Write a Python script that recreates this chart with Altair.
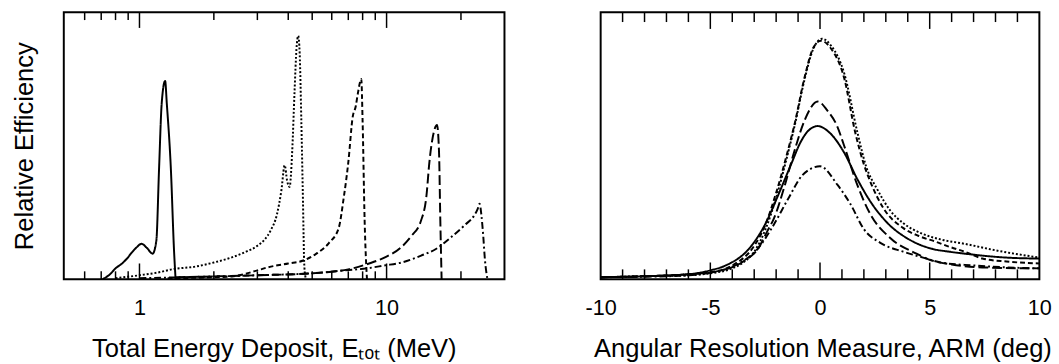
import altair as alt
import pandas as pd

FONT = "Liberation Sans"

# ---------------- Left panel: total energy deposit spectra ----------------
# x: total energy deposit (MeV), y: relative efficiency (arbitrary units)
l_solid_x = [0.71, 0.76, 0.80, 0.85, 0.89, 0.93, 0.97, 1.02, 1.07, 1.13, 1.17, 1.20, 1.23, 1.27, 1.29, 1.34, 1.38, 1.40]
l_solid_y = [0, 5, 11, 16, 21, 27, 32, 36, 32, 26, 39, 112, 179, 202, 179, 112, 29, 0]

l_dot_x = [0.80, 1.0, 1.2, 1.35, 1.7, 2.0, 2.35, 2.7, 3.0, 3.2, 3.4, 3.6, 3.75, 3.87, 3.96, 4.05, 4.15, 4.24, 4.32, 4.39, 4.45, 4.52, 4.58, 4.65, 4.72]
l_dot_y = [1, 4, 7, 10, 13, 17, 22, 28, 34, 40, 50, 66, 90, 116, 100, 94, 130, 190, 235, 248, 230, 160, 90, 12, 0]

l_sdash_x = [1.3, 2.0, 2.4, 3.0, 3.3, 4.0, 4.6, 5.2, 5.85, 6.4, 6.7, 7.0, 7.3, 7.5, 7.65, 7.9, 8.0, 8.15, 8.33]
l_sdash_y = [1, 2, 3, 9, 12, 16, 19, 26, 37, 52, 82, 119, 166, 176, 189, 204, 160, 60, 0]

l_ldash_x = [1.4, 3.0, 5.0, 7.0, 8.5, 9.8, 11.4, 12.6, 13.8, 14.5, 14.9, 15.5, 16.0, 16.3, 16.5, 16.7]
l_ldash_y = [2, 4, 6, 10, 16, 22, 32, 44, 60, 85, 119, 149, 157, 130, 60, 0]

l_dd_x = [1.0, 1.5, 3.0, 5.0, 6.8, 8.3, 9.8, 11.5, 13.8, 15.9, 18.1, 20.9, 22.5, 23.4, 23.8, 24.2, 24.6, 25.0, 25.6]
l_dd_y = [1, 2, 4, 6, 9, 11, 14, 17, 24, 31, 42, 56, 64, 72, 77, 65, 45, 20, 0]

# ---------------- Right panel: ARM distributions ----------------
r_solid_x = [-10, -8, -6, -5, -4.3, -3.2, -2.5, -1.9, -1.3, -0.9, -0.5, -0.1, 0.4, 1.1, 1.7, 2.3, 3.0, 4.1, 5.1, 5.9, 6.6, 7.4, 8.5, 10]
r_solid_y = [2, 3, 5, 9, 14, 32, 56, 86, 118, 139, 152, 156, 150, 129, 102, 79, 59, 40, 31, 28, 26, 24, 22, 21]

r_dot_x = [-10, -8, -6, -5, -4, -3.5, -3, -2.5, -2, -1.5, -1.15, -0.7, -0.3, 0.1, 0.5, 1.1, 1.7, 2.1, 2.6, 3.2, 3.8, 4.7, 5.6, 6.6, 8.1, 10]
r_dot_y = [2, 3, 4, 6, 11, 17, 28, 50, 83, 125, 157, 204, 235, 245, 238, 210, 150, 115, 92, 70, 57, 46, 40, 36, 29, 22]

r_sdash_x = [-10, -8, -6, -5, -4, -3, -2.5, -2, -1.5, -1.15, -0.7, -0.3, 0.05, 0.5, 1.1, 1.6, 2.0, 2.3, 2.9, 3.8, 4.5, 5.3, 5.9, 6.6, 7.4, 8.5, 10]
r_sdash_y = [2, 3, 5, 7, 14, 34, 55, 88, 128, 159, 206, 236, 243, 235, 205, 150, 117, 99, 72, 52, 44, 38, 33, 28, 21, 18, 16]

r_ldash_x = [-10, -8, -6, -4.5, -3.5, -2.8, -2.4, -2.1, -1.6, -1.2, -0.7, -0.1, 0.33, 0.78, 1.1, 1.7, 2.3, 3.2, 4.4, 5.1, 6.0, 7.4, 10]
r_ldash_y = [2, 3, 5, 9, 18, 32, 49, 62, 96, 128, 162, 181, 172, 156, 136, 96, 66, 42, 26, 19, 15, 12, 11]

r_dd_x = [-10, -7, -5.5, -4.5, -3.7, -2.8, -2.2, -1.45, -0.8, 0, 0.8, 1.4, 2.0, 2.75, 3.8, 4.7, 5.5, 7.0, 8.5, 10]
r_dd_y = [2, 3, 5, 9, 16, 32, 52, 82, 106, 115, 96, 76, 51, 37, 28, 22, 17, 14, 12, 11]

# tick positions
l_minor_ticks = [0.6, 0.7, 0.8, 0.9, 2, 3, 4, 5, 6, 7, 8, 9, 20]
l_major_ticks = [1, 10]
r_minor_ticks = [-9, -8, -7, -6, -4, -3, -2, -1, 1, 2, 3, 4, 6, 7, 8, 9]
r_major_ticks = [-5, 0, 5]
r_label_values = [-10, -5, 0, 5, 10]

styles = ["solid", "dotted", "short dash", "long dash", "dash-dot"]
dash_ranges = [[1, 0], [2, 2], [5, 3], [10, 4], [7, 3, 2, 3]]


def build(series):
    rows = []
    for name, xs, ys in series:
        for i, (x, y) in enumerate(zip(xs, ys)):
            rows.append({"x": x, "y": y, "style": name, "i": i})
    return pd.DataFrame(rows)


left_df = build([
    ("solid", l_solid_x, l_solid_y),
    ("dotted", l_dot_x, l_dot_y),
    ("short dash", l_sdash_x, l_sdash_y),
    ("long dash", l_ldash_x, l_ldash_y),
    ("dash-dot", l_dd_x, l_dd_y),
])
right_df = build([
    ("solid", r_solid_x, r_solid_y),
    ("dotted", r_dot_x, r_dot_y),
    ("short dash", r_sdash_x, r_sdash_y),
    ("long dash", r_ldash_x, r_ldash_y),
    ("dash-dot", r_dd_x, r_dd_y),
])

W_L, W_R, H = 449, 447, 272

y_scale = alt.Scale(domain=[0, 272], nice=False, zero=True)

common_x_axis = dict(
    ticks=False, tickSize=0, domain=False, grid=False,
    labelFontSize=22, labelPadding=19, labelFont=FONT, labelColor="black", labelFlush=False,
    labelExpr="'' + datum.value",
    titleFontSize=26, titleFont=FONT, titleFontWeight="normal", titleColor="black",
    titleY=79, titleAlign="center", titleBaseline="alphabetic",
)

x_left = alt.X(
    "x:Q",
    scale=alt.Scale(type="log", domain=[0.494, 30], nice=False),
    axis=alt.Axis(values=l_major_ticks, title="Total Energy Deposit, Eₜₒₜ  (MeV)", titleX=214, **common_x_axis),
)
x_right = alt.X(
    "x:Q",
    scale=alt.Scale(domain=[-10, 10], nice=False),
    axis=alt.Axis(values=r_label_values, title="Angular Resolution Measure, ARM (deg)", titleX=226, **common_x_axis),
)

y_left = alt.Y(
    "y:Q", scale=y_scale,
    axis=alt.Axis(
        labels=False, ticks=False, domain=False, grid=False,
        title="Relative Efficiency", titleFontSize=26, titleFont=FONT, titleFontWeight="normal",
        titleColor="black", titleX=-40, titleBaseline="middle", titleAlign="center", titleAngle=270,
    ),
)
y_right = alt.Y("y:Q", scale=y_scale, axis=None)

dash = alt.StrokeDash("style:N", scale=alt.Scale(domain=styles, range=dash_ranges), legend=None)


def panel(df, xenc, yenc, minor, major, width, minor_len, major_len):
    lines = alt.Chart(df).mark_line(color="black", strokeWidth=2, interpolate="monotone", clip=True).encode(
        x=xenc, y=yenc, strokeDash=dash, detail="style:N", order="i:Q"
    )
    layers = [lines]
    for vals, ln in ((minor, minor_len), (major, major_len)):
        tdf = pd.DataFrame({"x": vals})
        layers.append(alt.Chart(tdf).mark_rule(color="black", strokeWidth=1.5).encode(
            x=xenc, y=alt.value(0), y2=alt.value(ln)))
        layers.append(alt.Chart(tdf).mark_rule(color="black", strokeWidth=1.5).encode(
            x=xenc, y=alt.value(H), y2=alt.value(H - ln)))
    return alt.layer(*layers).properties(width=width, height=H)


left = panel(left_df, x_left, y_left, l_minor_ticks, l_major_ticks, W_L, 8, 16)
right = panel(right_df, x_right, y_right, r_minor_ticks, r_major_ticks, W_R, 10, 17)

chart = (
    alt.hconcat(left, right, spacing=80)
    .properties(padding={"left": 10, "top": 7, "right": 5, "bottom": 0}, background="white")
    .configure_view(stroke="black", strokeWidth=2)
)

chart.save("out.html", embed_options={"renderer": "svg", "actions": False})
